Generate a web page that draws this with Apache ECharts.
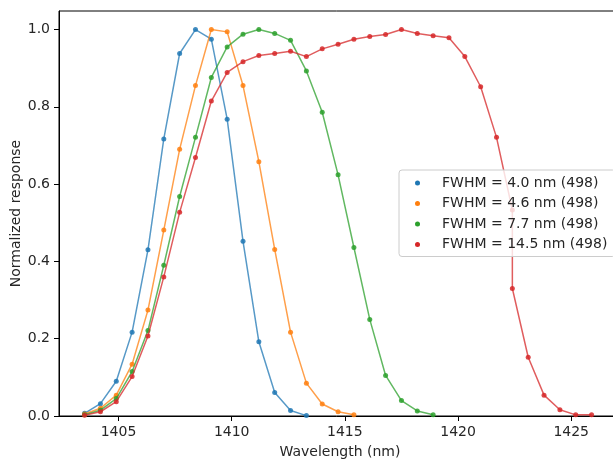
<!DOCTYPE html>
<html>
<head>
<meta charset="utf-8">
<script src="https://cdn.jsdelivr.net/npm/echarts@6/dist/echarts.min.js"></script>
<style>
html,body{margin:0;padding:0;background:#fff;}
#chart{width:613px;height:459px;}
</style>
</head>
<body>
<div id="chart"></div>
<script>
// Data
var seriesNames = ['FWHM = 4.0 nm (498)', 'FWHM = 4.6 nm (498)', 'FWHM = 7.7 nm (498)', 'FWHM = 14.5 nm (498)'];

var wlBlue = [1403.5,1404.2,1404.9,1405.6,1406.3,1407.0,1407.7,1408.4,1409.1,1409.8,1410.5,1411.2,1411.9,1412.6,1413.3];
var valBlue = [0.007,0.032,0.09,0.217,0.43,0.717,0.938,1.0,0.975,0.768,0.452,0.192,0.061,0.014,0.001];

var wlOrange = [1403.5,1404.2,1404.9,1405.6,1406.3,1407.0,1407.7,1408.4,1409.1,1409.8,1410.5,1411.2,1411.9,1412.6,1413.3,1414.0,1414.7,1415.4];
var valOrange = [0.005,0.02,0.054,0.134,0.274,0.481,0.69,0.855,1.0,0.994,0.855,0.658,0.431,0.217,0.085,0.031,0.011,0.003];

var wlGreen = [1403.5,1404.2,1404.9,1405.6,1406.3,1407.0,1407.7,1408.4,1409.1,1409.8,1410.5,1411.2,1411.9,1412.6,1413.3,1414.0,1414.7,1415.4,1416.1,1416.8,1417.5,1418.2,1418.9];
var valGreen = [0.003,0.015,0.045,0.115,0.221,0.39,0.568,0.721,0.876,0.955,0.988,1.0,0.99,0.972,0.893,0.786,0.624,0.436,0.25,0.105,0.04,0.013,0.003];

var wlRed = [1403.5,1404.2,1404.9,1405.6,1406.3,1407.0,1407.7,1408.4,1409.1,1409.8,1410.5,1411.2,1411.9,1412.6,1413.3,1414.0,1414.7,1415.4,1416.1,1416.8,1417.5,1418.2,1418.9,1419.6,1420.3,1421.0,1421.7,1422.4,1422.4,1423.1,1423.8,1424.5,1425.2,1425.9];
var valRed = [0.002,0.011,0.037,0.102,0.207,0.36,0.527,0.669,0.815,0.889,0.917,0.933,0.938,0.944,0.93,0.95,0.962,0.975,0.982,0.987,1.0,0.99,0.984,0.979,0.93,0.852,0.721,0.533,0.33,0.152,0.054,0.016,0.003,0.003];

var xTicks = [1405, 1410, 1415, 1420, 1425];
var yTicks = [0.0, 0.2, 0.4, 0.6, 0.8, 1.0];

var colors = ['#1f77b4', '#ff7f0e', '#2ca02c', '#d62728'];

function pairs(xs, ys) {
  var out = [];
  for (var i = 0; i < xs.length; i++) out.push([xs[i], ys[i]]);
  return out;
}
var allX = [wlBlue, wlOrange, wlGreen, wlRed];
var allY = [valBlue, valOrange, valGreen, valRed];

var font = 'DejaVu Sans';
var txt = '#262626';
var fs = 14;

var series = seriesNames.map(function (name, i) {
  return {
    name: name,
    type: 'line',
    data: pairs(allX[i], allY[i]),
    symbol: 'circle',
    symbolSize: 5,
    showSymbol: true,
    itemStyle: { color: colors[i], opacity: 0.85 },
    lineStyle: { color: colors[i], width: 1.5, opacity: 0.75 },
    emphasis: { disabled: true },
    z: 2 + i
  };
});

var chart = echarts.init(document.getElementById('chart'), null, { renderer: 'canvas' });
chart.setOption({
  animation: false,
  backgroundColor: '#fff',
  color: colors,
  grid: {
    left: 59, top: 11, right: -8, bottom: 43,
    containLabel: false,
    outerBoundsMode: 'none',
    show: true, borderColor: '#000', borderWidth: 1, backgroundColor: 'transparent'
  },
  legend: {
    orient: 'vertical',
    left: 399, top: 170,
    padding: [6, 8, 5, 16],
    itemGap: 6.5,
    itemWidth: 5, itemHeight: 5,
    icon: 'circle',
    backgroundColor: 'rgba(255,255,255,0.8)',
    borderColor: '#cccccc', borderWidth: 1, borderRadius: 3,
    formatter: function (n) { return '{t|' + n + '}'; },
    textStyle: {
      fontFamily: font, fontSize: fs, color: txt,
      rich: { t: { fontFamily: font, fontSize: fs, color: txt, lineHeight: 14, padding: [0, 0, 0, 17] } }
    },
    data: seriesNames.map(function (n, i) { return { name: n, itemStyle: { color: colors[i], opacity: 1 } }; }),
    z: 20
  },
  xAxis: {
    type: 'value',
    min: 1402.37, max: 1427.2,
    name: 'Wavelength (nm)',
    nameLocation: 'middle',
    nameGap: 29,
    nameTextStyle: { fontFamily: font, fontSize: fs, color: txt },
    splitLine: { show: false },
    axisLine: { show: true, onZero: false, lineStyle: { color: '#000', width: 1 } },
    axisTick: { show: true, length: 5, customValues: xTicks, lineStyle: { color: '#000', width: 1 } },
    axisLabel: {
      customValues: xTicks, fontFamily: font, fontSize: fs, color: txt, margin: 9,
      formatter: function (v) { return String(Math.round(v)); }
    }
  },
  yAxis: {
    type: 'value',
    min: 0, max: 1.048,
    name: 'Normalized response',
    nameLocation: 'middle',
    nameGap: 36,
    nameMoveOverlap: false,
    nameTextStyle: { fontFamily: font, fontSize: fs, color: txt },
    splitLine: { show: false },
    axisLine: { show: true, onZero: false, lineStyle: { color: '#000', width: 1 } },
    axisTick: { show: true, length: 5, customValues: yTicks, lineStyle: { color: '#000', width: 1 } },
    axisLabel: {
      customValues: yTicks, fontFamily: font, fontSize: fs, color: txt, margin: 9,
      formatter: function (v) { return v.toFixed(1); }
    }
  },
  series: series
});
</script>
</body>
</html>
